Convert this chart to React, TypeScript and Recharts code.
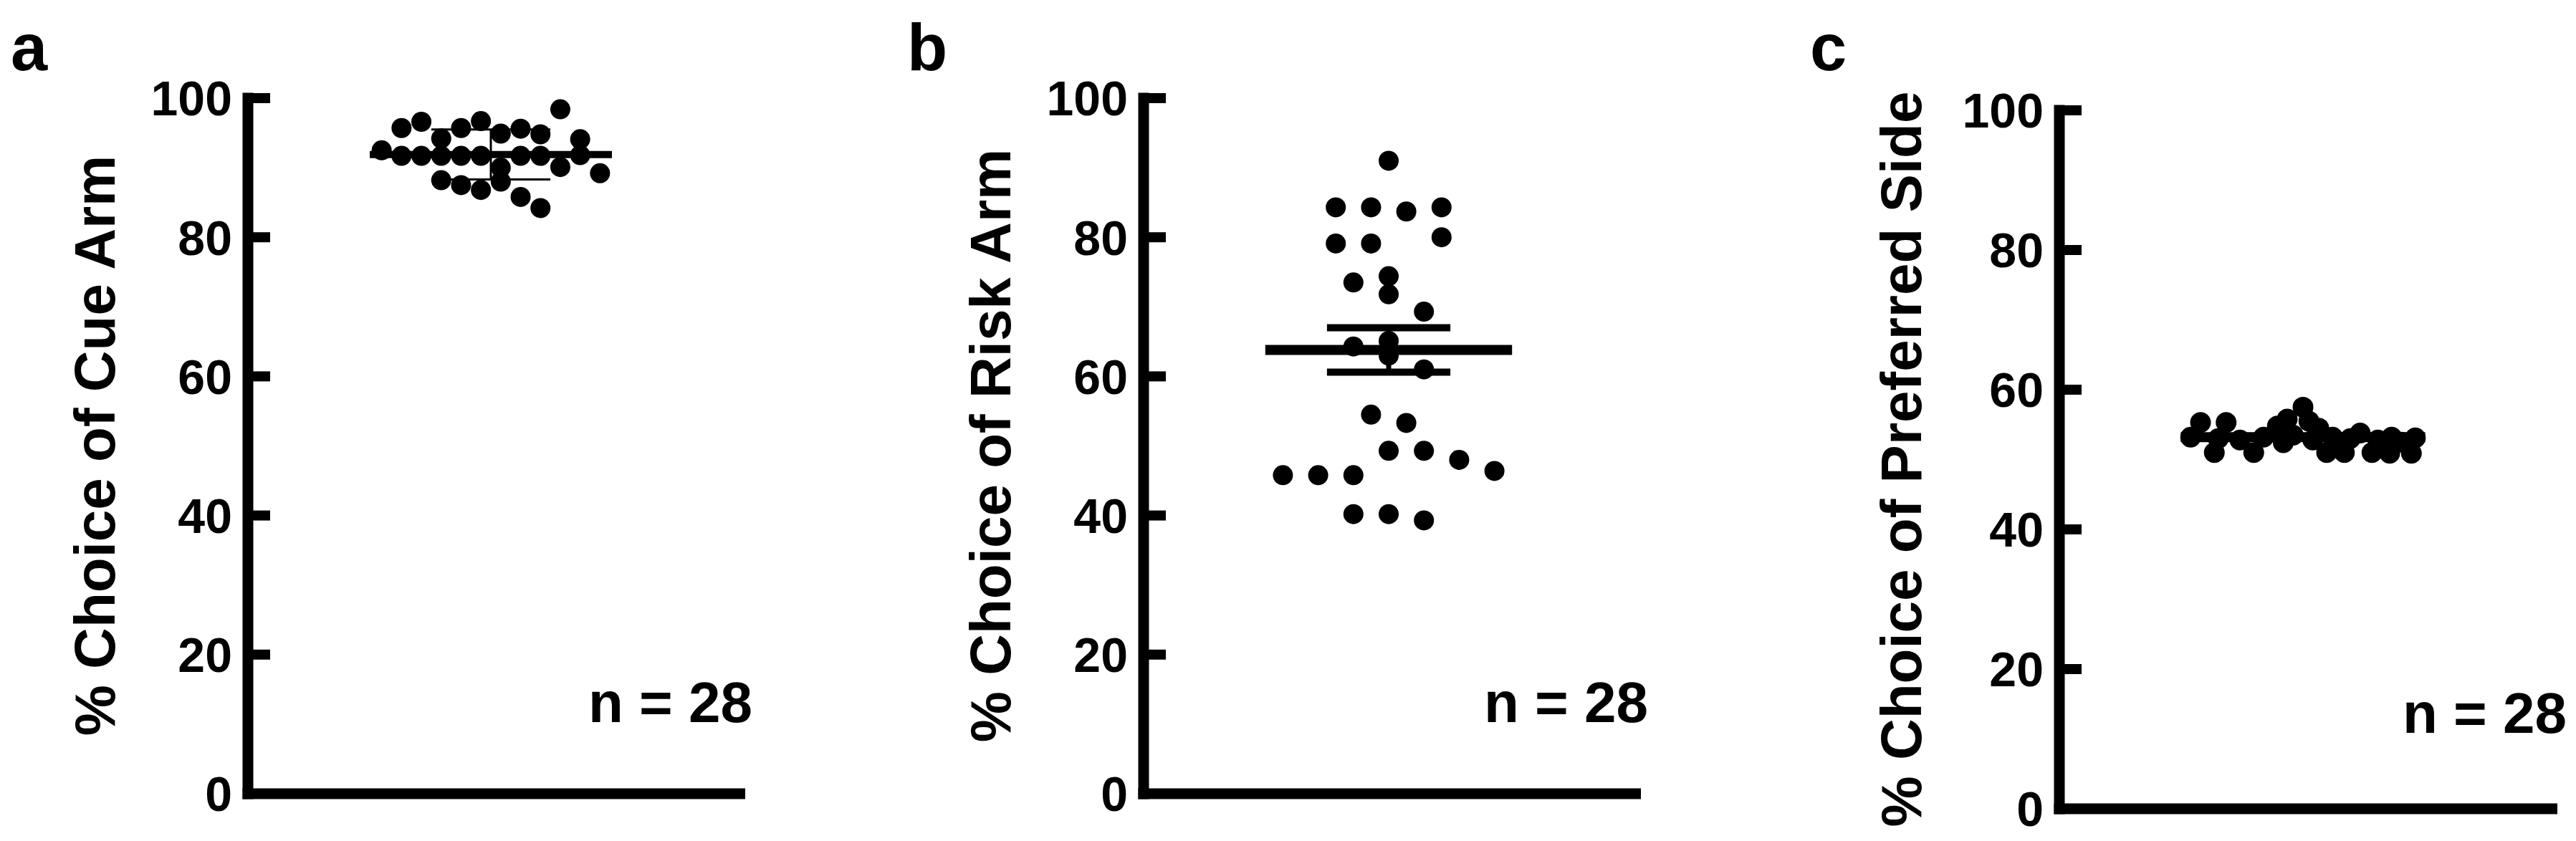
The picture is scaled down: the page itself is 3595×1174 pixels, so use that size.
import React from "react";
import { ScatterChart, Scatter, XAxis, YAxis, ReferenceLine } from "recharts";

const yTicks = [0, 20, 40, 60, 80, 100];
const sampleLabel = "n = 28";

// a: cue arm (slot = horizontal beeswarm position, values in %)
const cueArmSlots = [-4.5, -3.5, -1.5, -0.5, 0.5, 1.5, 2.5, 3.5, 4.5, -2.5, -5.5, -4.5, -3.5, -2.5, -1.5, -0.5, 0.5, 1.5, 2.5, 3.5, 4.5, 5.5, -2.5, -1.5, -0.5, 0.5, 1.5, 2.5];
const cueArmValues = [95.7, 96.6, 95.7, 96.7, 94.9, 95.6, 94.8, 98.4, 94.1, 94.2, 92.5, 91.7, 91.7, 91.7, 91.7, 91.7, 90.0, 91.7, 91.7, 90.1, 91.8, 89.2, 88.2, 87.5, 86.8, 88.0, 85.8, 84.2];
const cueArmMean = 91.9;
const cueArmError = 3.6;

// b: risk arm
const riskArmSlots = [0, -3, -1, 1, 3, -3, -1, 3, -2, 0, 0, 2, -2, 0, 2, -1, 1, 0, 2, 4, 6, -6, -4, -2, -2, 0, 2, 0];
const riskArmValues = [91.0, 84.3, 84.3, 83.7, 84.3, 79.1, 79.1, 80.0, 73.5, 74.4, 71.8, 69.3, 64.3, 65.1, 61.0, 54.5, 53.3, 49.3, 49.3, 48.0, 46.4, 45.8, 45.8, 45.8, 40.2, 40.2, 39.3, 63.0];
const riskArmMean = 63.8;
const riskArmError = 3.2;

// c: preferred side
const sideSlots = [-5.7, -5.2, -4.5, -4.3, -3.9, -3.2, -2.5, -2.0, -1.3, -1.0, -0.5, 0.0, 0.3, 0.8, 1.2, 1.5, 2.1, 2.4, 2.9, 3.5, 3.8, 4.4, 4.5, 5.0, 5.5, 5.7, 0.5, -0.8];
const sideValues = [53.2, 55.3, 51.0, 53.0, 55.3, 52.8, 51.0, 53.2, 54.8, 52.4, 53.5, 57.5, 55.5, 54.5, 51.0, 53.2, 51.0, 53.0, 53.8, 51.0, 52.8, 50.9, 53.2, 52.5, 50.9, 53.1, 52.8, 55.8];
const sideMean = 53.2;
const sideError = 0.3;

const FONT = '"Liberation Sans", Arial, Helvetica, sans-serif';
const W = 3595;
const H = 1174;
const AXIS_W = 15;

type Geom = {
  axisX: number;
  lineEndX: number;
  top: number;
  bottom: number;
  centerX: number;
  step: number;
  dotR: number;
  meanHalf: number;
  errHalf: number;
  meanWidth: number;
  errWidth: number;
  stemWidth: number;
};

type PanelProps = {
  slots: number[];
  values: number[];
  mean: number;
  error: number;
  geom: Geom;
};

function YTick(props: any) {
  const { x, y, payload } = props;
  return (
    <g>
      <line x1={x} x2={x + 31} y1={y} y2={y} stroke="#000" strokeWidth={14} />
      <text
        x={x - 22}
        y={y}
        dy="0.358em"
        textAnchor="end"
        fontFamily={FONT}
        fontWeight="bold"
        fontSize={68}
        fill="#000"
      >
        {payload.value}
      </text>
    </g>
  );
}

function Panel({ slots, values, mean, error, geom }: PanelProps) {
  const points = slots.map((s, i) => ({ x: s, y: values[i] }));
  const plotRight = geom.lineEndX - AXIS_W / 2;
  const xDomain = [
    (geom.axisX - geom.centerX) / geom.step,
    (plotRight - geom.centerX) / geom.step,
  ];

  return (
    <div style={{ position: "absolute", left: 0, top: 0 }}>
      <ScatterChart
        width={W}
        height={H}
        margin={{
          top: geom.top,
          bottom: H - geom.bottom - 30,
          left: geom.axisX - 100,
          right: W - plotRight,
        }}
      >
        <XAxis
          type="number"
          dataKey="x"
          domain={xDomain}
          allowDataOverflow
          height={30}
          tick={false}
          tickLine={false}
          axisLine={{ stroke: "#000", strokeWidth: AXIS_W, strokeLinecap: "square" }}
        />
        <YAxis
          type="number"
          dataKey="y"
          domain={[0, 100]}
          ticks={yTicks}
          interval={0}
          width={100}
          tickSize={0}
          tickMargin={0}
          tickLine={false}
          tick={<YTick />}
          axisLine={{ stroke: "#000", strokeWidth: AXIS_W, strokeLinecap: "square" }}
        />
        <Scatter
          data={points}
          isAnimationActive={false}
          shape={(p: any) => <circle cx={p.cx} cy={p.cy} r={geom.dotR} fill="#000" />}
        />
        <ReferenceLine
          segment={[{ x: -geom.meanHalf, y: mean }, { x: geom.meanHalf, y: mean }]}
          stroke="#000"
          strokeWidth={geom.meanWidth}
        />
        <ReferenceLine
          segment={[{ x: -geom.errHalf, y: mean + error }, { x: geom.errHalf, y: mean + error }]}
          stroke="#000"
          strokeWidth={geom.errWidth}
        />
        <ReferenceLine
          segment={[{ x: -geom.errHalf, y: mean - error }, { x: geom.errHalf, y: mean - error }]}
          stroke="#000"
          strokeWidth={geom.errWidth}
        />
        <ReferenceLine
          segment={[{ x: 0, y: mean - error }, { x: 0, y: mean + error }]}
          stroke="#000"
          strokeWidth={geom.stemWidth}
        />
      </ScatterChart>
    </div>
  );
}

const geomA: Geom = { axisX: 346, lineEndX: 1040, top: 137, bottom: 1108, centerX: 685, step: 27.7, dotR: 14, meanHalf: 6.1, errHalf: 3.0, meanWidth: 10, errWidth: 3, stemWidth: 3 };
const geomB: Geom = { axisX: 1596, lineEndX: 2290, top: 137, bottom: 1108, centerX: 1938, step: 24.6, dotR: 14, meanHalf: 7.0, errHalf: 3.5, meanWidth: 14, errWidth: 10, stemWidth: 7 };
const geomC: Geom = { axisX: 2874, lineEndX: 3569, top: 154, bottom: 1129, centerX: 3214, step: 27.5, dotR: 14.5, meanHalf: 6.2, errHalf: 3.1, meanWidth: 14, errWidth: 4, stemWidth: 4 };

const textStyle = { fontFamily: FONT, fontWeight: "bold" as const, fill: "#000" };

export default function App() {
  return (
    <div style={{ position: "relative", width: W, height: H, background: "#fff" }}>
      <style>{"body{margin:0}"}</style>
      <Panel slots={cueArmSlots} values={cueArmValues} mean={cueArmMean} error={cueArmError} geom={geomA} />
      <Panel slots={riskArmSlots} values={riskArmValues} mean={riskArmMean} error={riskArmError} geom={geomB} />
      <Panel slots={sideSlots} values={sideValues} mean={sideMean} error={sideError} geom={geomC} />
      <svg width={W} height={H} style={{ position: "absolute", left: 0, top: 0, pointerEvents: "none" }}>
        <text x={15} y={98} fontSize={92} {...textStyle}>a</text>
        <text x={1266} y={98} fontSize={92} {...textStyle}>b</text>
        <text x={2526} y={98} fontSize={92} {...textStyle}>c</text>

        <text transform="translate(131,622) rotate(-90)" dy="0.358em" textAnchor="middle" fontSize={80} {...textStyle}>
          % Choice of Cue Arm
        </text>
        <text transform="translate(1381,622) rotate(-90)" dy="0.358em" textAnchor="middle" fontSize={80} {...textStyle}>
          % Choice of Risk Arm
        </text>
        <text transform="translate(2652,641) rotate(-90)" dy="0.358em" textAnchor="middle" fontSize={80} {...textStyle}>
          % Choice of Preferred Side
        </text>

        <text x={1050} y={1008} textAnchor="end" fontSize={80} {...textStyle}>{sampleLabel}</text>
        <text x={2300} y={1008} textAnchor="end" fontSize={80} {...textStyle}>{sampleLabel}</text>
        <text x={3582} y={1023} textAnchor="end" fontSize={80} {...textStyle}>{sampleLabel}</text>
      </svg>
    </div>
  );
}
